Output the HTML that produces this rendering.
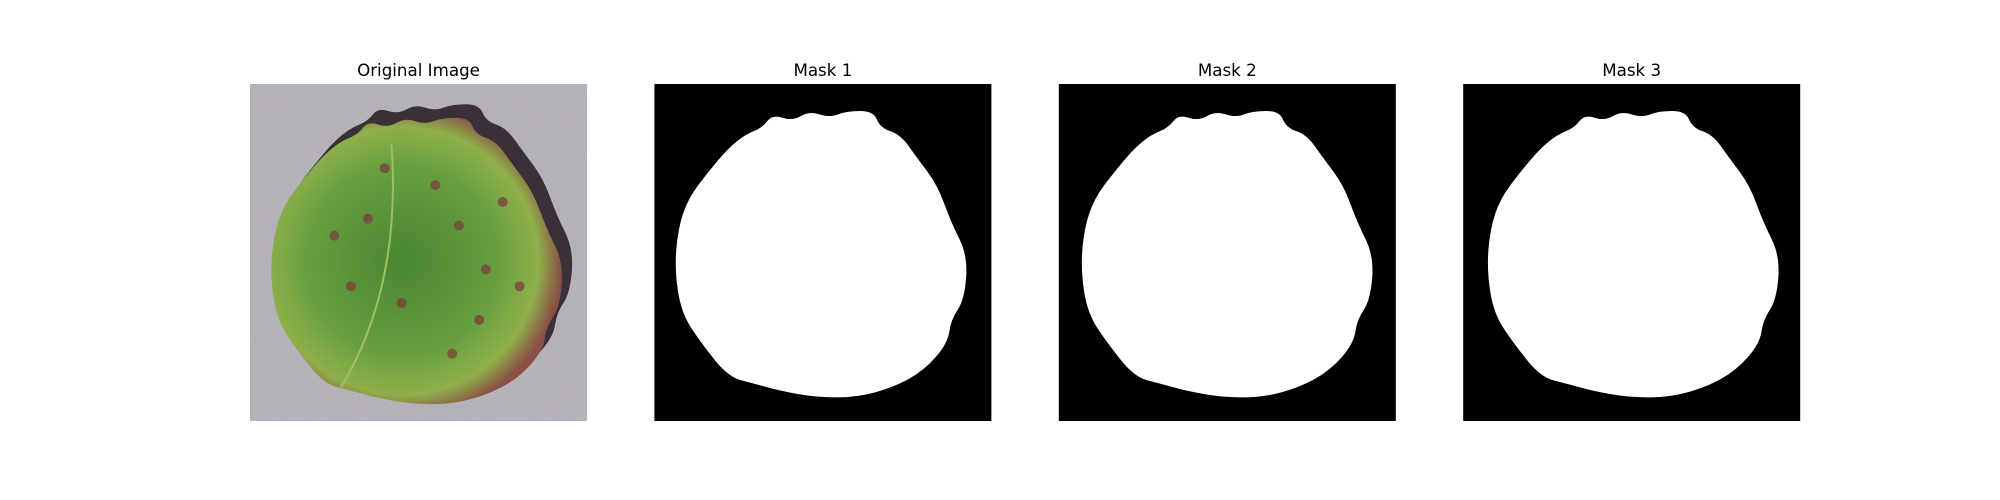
<!DOCTYPE html>
<html><head><meta charset="utf-8"><style>
html,body{margin:0;padding:0;background:#fff;width:2000px;height:500px;overflow:hidden}
svg{display:block}
text{font-family:"DejaVu Sans","Liberation Sans",sans-serif}
</style></head><body>
<svg id="fig" width="2000" height="500" viewBox="0 0 2000 500">
<defs>
<radialGradient id="leafGrad" cx="0.45" cy="0.5" r="0.55">
<stop offset="0" stop-color="#4a8632"/>
<stop offset="0.6" stop-color="#679f40"/>
<stop offset="0.85" stop-color="#8fb04a"/>
<stop offset="1" stop-color="#8a4f45"/>
</radialGradient>
<filter id="noise"><feTurbulence type="fractalNoise" baseFrequency="0.9" numOctaves="2" result="n"/><feColorMatrix type="saturate" values="0"/><feComponentTransfer><feFuncA type="table" tableValues="0 0.35"/></feComponentTransfer><feComposite in2="SourceGraphic" operator="in"/></filter>
</defs>
</svg>
<script>
const titles = ["Original Image","Mask 1","Mask 2","Mask 3"];
const shape = [[0.32,0.13],[0.35,0.09],[0.41,0.11],[0.46,0.08],[0.52,0.10],[0.57,0.08],[0.65,0.08],[0.67,0.13],[0.73,0.15],[0.78,0.22],[0.84,0.30],[0.88,0.41],[0.93,0.51],[0.92,0.64],[0.88,0.70],[0.87,0.77],[0.80,0.85],[0.71,0.90],[0.60,0.93],[0.48,0.93],[0.37,0.91],[0.30,0.89],[0.22,0.87],[0.14,0.77],[0.08,0.68],[0.06,0.55],[0.07,0.43],[0.10,0.34],[0.16,0.26],[0.22,0.19],[0.27,0.15]];
const spots = [[0.55,0.30],[0.62,0.42],[0.70,0.55],[0.35,0.40],[0.45,0.65],[0.75,0.35],[0.30,0.60],[0.60,0.80],[0.80,0.60],[0.40,0.25],[0.25,0.45],[0.68,0.70]];
const ns="http://www.w3.org/2000/svg";
const svg=document.getElementById('fig');
const X0=[250,654.4,1058.8,1463.2], Y0=84, S=337;
function mk(tag,attrs){const e=document.createElementNS(ns,tag);for(const k in attrs)e.setAttribute(k,attrs[k]);svg.appendChild(e);return e;}
function pathFor(x0,dx,dy){
  const P=shape.map(p=>[x0+(p[0]+dx)*S, Y0+(p[1]+dy)*S]);
  const n=P.length; const mid=(a,b)=>[(a[0]+b[0])/2,(a[1]+b[1])/2];
  let m=mid(P[n-1],P[0]); let d='M'+m[0]+','+m[1];
  for(let i=0;i<n;i++){const q=mid(P[i],P[(i+1)%n]); d+=' Q'+P[i][0]+','+P[i][1]+' '+q[0]+','+q[1];}
  return d+'Z';
}
titles.forEach((t,i)=>{
  const tx=mk('text',{x:X0[i]+S/2,y:76,'text-anchor':'middle','font-size':'16.7',fill:'#000'});
  tx.textContent=t;
  
  
  if(i===0){
    const bg=mk('rect',{x:X0[0],y:Y0,width:S,height:S,fill:'#b4afb9'});
    
    
    mk('rect',{x:X0[0],y:Y0,width:S,height:S,fill:'#fff',filter:'url(#noise)'});
    const sh=mk('path',{d:pathFor(X0[0],0.03,-0.02),fill:'#3a3038'});
    
    
    const lf=mk('path',{d:pathFor(X0[0],0,0.02),fill:'url(#leafGrad)'});
    
    
    spots.forEach(s=>{
      const c=mk('circle',{cx:X0[0]+s[0]*S,cy:Y0+s[1]*S,r:5,fill:'#7a3a3a',opacity:0.7});
      
      
    });
    mk('path',{d:'M'+(X0[0]+0.27*S)+','+(Y0+0.9*S)+' Q'+(X0[0]+0.45*S)+','+(Y0+0.6*S)+' '+(X0[0]+0.42*S)+','+(Y0+0.18*S),stroke:'#9fbf66','stroke-width':2,fill:'none'});
  } else {
    const bg=mk('rect',{x:X0[i],y:Y0,width:S,height:S,fill:'#000'});
    
    
    const m=mk('path',{d:pathFor(X0[i],(i-1)*0.005,0),fill:'#fff'});
    
    
  }
});
</script>
</body></html>
